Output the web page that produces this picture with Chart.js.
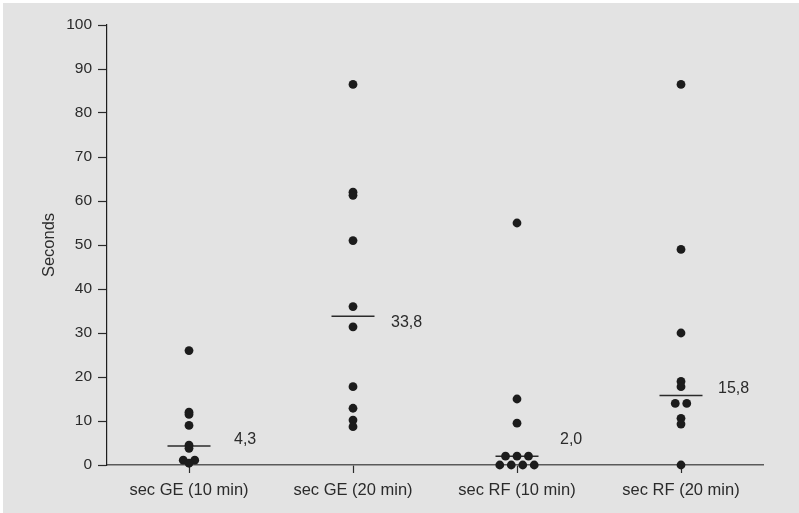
<!DOCTYPE html>
<html>
<head>
<meta charset="utf-8">
<script src="https://cdn.jsdelivr.net/npm/chart.js@4"></script>
<style>
    html, body { margin: 0; padding: 0; background: #ffffff; overflow: hidden; }
    #wrap { width: 799px; height: 513px; }
</style>
</head>
<body>
<div id="wrap"><canvas id="chart" width="799" height="513"></canvas></div>
<script>
const categories = ['sec GE (10 min)', 'sec GE (20 min)', 'sec RF (10 min)', 'sec RF (20 min)'];

const secGE10 = [26, 12, 11.5, 9, 4.5, 3.8, 1.1, 1.1, 0.4];
const secGE20 = [86.5, 62, 61.3, 51, 36, 31.4, 17.8, 12.9, 10.2, 8.7];
const secRF10 = [55, 15, 9.5, 2, 2, 2, 0, 0, 0, 0];
const secRF20 = [86.5, 49, 30, 19, 17.8, 14, 14, 10.6, 9.3, 0];

const medians = [4.3, 33.8, 2.0, 15.8];

const yTicks = [0, 10, 20, 30, 40, 50, 60, 70, 80, 90, 100];

// horizontal spread for dots that share the same value (in category units)
const DOT_STEP = 0.07;

function buildPoints(values, index) {
    const groups = {};
    values.forEach(v => {
        groups[v] = (groups[v] || 0) + 1;
    });
    const seen = {};
    return values.map(v => {
        const n = groups[v];
        const k = seen[v] || 0;
        seen[v] = k + 1;
        return { x: index + (k - (n - 1) / 2) * DOT_STEP, y: v };
    });
}

const series = [secGE10, secGE20, secRF10, secRF20];
const dotData = [];
series.forEach((values, i) => {
    buildPoints(values, i).forEach(p => dotData.push(p));
});
const medianData = medians.map((m, i) => ({ x: i, y: m }));

const labelDx = [45, 38, 43, 37];
const labelDy = [-6, 6, -17, -7];

const backgroundPlugin = {
    id: 'background',
    beforeDraw(chart) {
        const ctx = chart.ctx;
        ctx.save();
        ctx.fillStyle = '#ffffff';
        ctx.fillRect(0, 0, chart.width, chart.height);
        ctx.fillStyle = '#e3e3e3';
        ctx.fillRect(3, 3, chart.width, chart.height);
        ctx.restore();
    }
};

const medianLabelPlugin = {
    id: 'medianLabels',
    afterDatasetsDraw(chart) {
        const ctx = chart.ctx;
        const xs = chart.scales.x;
        const ys = chart.scales.y;
        ctx.save();
        ctx.fillStyle = '#2b2b2b';
        ctx.font = '16px "Liberation Sans", Arial, sans-serif';
        ctx.textAlign = 'left';
        ctx.textBaseline = 'middle';
        medians.forEach((m, i) => {
            const text = m.toFixed(1).replace('.', ',');
            ctx.fillText(text, xs.getPixelForValue(i) + labelDx[i], ys.getPixelForValue(m) + labelDy[i]);
        });
        ctx.restore();
    }
};

const ctx = document.getElementById('chart').getContext('2d');

new Chart(ctx, {
    type: 'scatter',
    data: {
        datasets: [{
            label: 'Seconds',
            data: dotData,
            clip: false,
            pointRadius: 4.4,
            pointHoverRadius: 4.4,
            pointBackgroundColor: '#1c1c1c',
            pointBorderWidth: 0
        }, {
            label: 'Median',
            data: medianData,
            clip: false,
            pointStyle: 'line',
            pointRadius: 21.5,
            pointHoverRadius: 21.5,
            borderColor: '#2b2b2b',
            pointBorderColor: '#2b2b2b',
            pointBorderWidth: 1.5
        }]
    },
    options: {
        responsive: false,
        animation: false,
        layout: {
            padding: { left: 0, right: 36, top: 25, bottom: 0 }
        },
        plugins: {
            legend: { display: false },
            tooltip: { enabled: false }
        },
        scales: {
            x: {
                type: 'linear',
                min: -0.5,
                max: 3.5,
                afterBuildTicks: scale => {
                    scale.ticks = categories.map((c, i) => ({ value: i }));
                },
                afterFit: scale => {
                    scale.height = 48;
                },
                ticks: {
                    callback: value => categories[value],
                    color: '#2b2b2b',
                    font: { family: '"Liberation Sans", Arial, sans-serif', size: 16.5 },
                    padding: 8,
                    maxRotation: 0,
                    autoSkip: false
                },
                grid: {
                    drawOnChartArea: false,
                    drawTicks: true,
                    tickLength: 8,
                    tickColor: '#2b2b2b',
                    tickWidth: 1.2
                },
                border: {
                    color: '#5a5a5a',
                    width: 1.5
                }
            },
            y: {
                type: 'linear',
                min: 0,
                max: 100,
                afterBuildTicks: scale => {
                    scale.ticks = yTicks.map(v => ({ value: v }));
                },
                afterFit: scale => {
                    scale.width = 107;
                },
                ticks: {
                    color: '#2b2b2b',
                    font: { family: '"Liberation Sans", Arial, sans-serif', size: 15.5 },
                    padding: 6
                },
                grid: {
                    drawOnChartArea: false,
                    drawTicks: true,
                    tickLength: 9,
                    tickColor: '#2b2b2b',
                    tickWidth: 1.2
                },
                border: {
                    color: '#1e1e1e',
                    width: 1.2
                },
                title: {
                    display: true,
                    text: 'Seconds',
                    color: '#2b2b2b',
                    font: { family: '"Liberation Sans", Arial, sans-serif', size: 16.5 },
                    padding: { top: 40, bottom: 0 }
                }
            }
        }
    },
    plugins: [backgroundPlugin, medianLabelPlugin]
});
</script>
</body>
</html>
